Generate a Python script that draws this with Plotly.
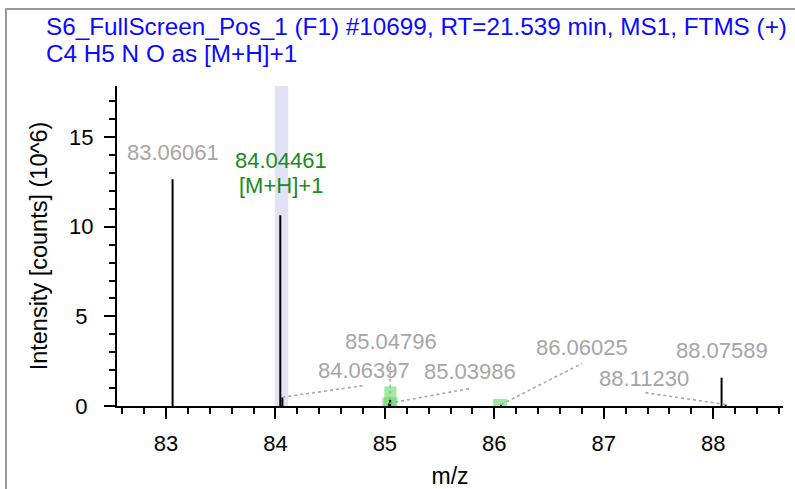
import plotly.graph_objects as go

# ---- data ----
peak_mz = [83.06061, 84.04461, 84.06397, 85.03986, 85.04796, 86.06025, 88.07589, 88.11230]
peak_int = [12.65, 10.64, 0.49, 0.15, 0.35, 0.08, 1.58, 0.08]

label_text = ["83.06061", "84.04461", "84.06397", "85.03986", "85.04796", "86.06025", "88.07589", "88.11230"]
label_x = [83.064, 84.050, 84.812, 85.780, 85.052, 86.800, 88.078, 87.365]
label_y = [14.13, 13.69, 1.98, 1.90, 3.58, 3.24, 3.10, 1.56]
label_color = ["#a6a6a6", "#1b8a1b", "#a6a6a6", "#a6a6a6", "#a6a6a6", "#a6a6a6", "#a6a6a6", "#a6a6a6"]
# leader lines: (peak index, end x, end y)
leader_peak = [2, 3, 4, 5, 7]
leader_end_x = [84.817, 85.795, 85.048, 86.800, 87.374]
leader_end_y = [1.15, 1.00, 2.71, 2.37, 0.75]

ion_label = "[M+H]+1"
target_center = 84.056
target_width = 0.122
iso_center = [85.045, 85.050, 86.053]
iso_width = [0.137, 0.110, 0.128]
iso_height = [0.49, 1.09, 0.40]

y_tickvals = [0, 5, 10, 15]
y_ticklabels = ["0", "5", "10", "15"]

title1 = "S6_FullScreen_Pos_1 (F1) #10699, RT=21.539 min, MS1, FTMS (+)"
title2 = "C4 H5 N O as [M+H]+1"

xrange_ = [82.553, 88.637]
yrange_ = [0, 17.85]

FONT = "Arial, Liberation Sans, sans-serif"
NB = "\u00a0"

fig = go.Figure()

# target band
fig.add_shape(type="rect", xref="x", yref="paper",
              x0=target_center - target_width / 2, x1=target_center + target_width / 2,
              y0=0, y1=1, fillcolor="#e2e2f7", line_width=0, layer="below")
# isotope pattern boxes
for c, w, h in zip(iso_center, iso_width, iso_height):
    fig.add_shape(type="rect", xref="x", yref="y", x0=c - w / 2, x1=c + w / 2, y0=0, y1=h,
                  fillcolor="rgba(100,220,100,0.6)", line_width=0, layer="below")

# sticks
xs, ys = [], []
for m, i in zip(peak_mz, peak_int):
    xs += [m, m, None]
    ys += [0, i, None]
fig.add_trace(go.Scatter(x=xs, y=ys, mode="lines", line=dict(color="black", width=2),
                         hoverinfo="skip", showlegend=False))

# leader lines
lx, ly = [], []
for p, ex, ey in zip(leader_peak, leader_end_x, leader_end_y):
    lx += [peak_mz[p], ex, None]
    ly += [peak_int[p], ey, None]
fig.add_trace(go.Scatter(x=lx, y=ly, mode="lines", line=dict(color="#a6a6a6", width=1.6, dash="dot"),
                         hoverinfo="skip", showlegend=False))

for t, x, y, c in zip(label_text, label_x, label_y, label_color):
    fig.add_annotation(x=x, y=y, xref="x", yref="y", text=t, showarrow=False,
                       font=dict(family=FONT, size=22, color=c), xanchor="center", yanchor="middle")
fig.add_annotation(x=label_x[1], y=12.29, xref="x", yref="y", text=ion_label, showarrow=False,
                   font=dict(family=FONT, size=22, color=label_color[1]), xanchor="center", yanchor="middle")

# titles
L, R, T, B = 117, 12, 86, 83
pw, ph = 795 - L - R, 489 - T - B
def px(xp):
    return (xp - L) / pw
def py(yp):
    return (489 - B - yp) / ph
fig.add_annotation(x=px(44), y=py(26.5), xref="paper", yref="paper", text=title1, showarrow=False,
                   font=dict(family=FONT, size=24.3, color="#0a0aff"), xanchor="left", yanchor="middle")
fig.add_annotation(x=px(44), y=py(53.5), xref="paper", yref="paper", text=title2, showarrow=False,
                   font=dict(family=FONT, size=24.3, color="#0a0aff"), xanchor="left", yanchor="middle")

# frame border
fig.add_shape(type="rect", xref="paper", yref="paper", x0=px(6), y0=py(9), x1=px(900), y1=py(700),
              line=dict(color="#9a9a9a", width=2), fillcolor="rgba(0,0,0,0)", layer="below")

# y labels are centred in the original: pad single digits by half a digit
y_ticktext = [t + (NB if len(t) == 1 else "") + NB for t in y_ticklabels]

fig.update_layout(
    width=795, height=489,
    margin=dict(l=L, r=R, t=T, b=B, pad=0, autoexpand=False),
    paper_bgcolor="white", plot_bgcolor="white",
    showlegend=False,
    font=dict(family=FONT, color="black"),
)
fig.update_xaxes(range=xrange_, showgrid=False, zeroline=False, showline=True, linecolor="black",
                 linewidth=2, ticks="outside", ticklen=11, tickwidth=2, tickcolor="black", automargin=False,
                 dtick=1, tick0=83, tickfont=dict(size=22, family=FONT), ticklabelstandoff=6,
                 minor=dict(dtick=0.2, tick0=83, ticks="outside", ticklen=6, tickwidth=1.5, tickcolor="black"),
                 title=dict(text="m/z", font=dict(size=23, family=FONT), standoff=16))
fig.update_yaxes(range=yrange_, showgrid=False, zeroline=False, showline=True, linecolor="black",
                 linewidth=2, ticks="outside", ticklen=11, tickwidth=2, tickcolor="black", automargin=False,
                 tickmode="array", tickvals=y_tickvals, ticktext=y_ticktext,
                 tickfont=dict(size=22, family=FONT),
                 minor=dict(dtick=1, tick0=0, ticks="outside", ticklen=6, tickwidth=1.5, tickcolor="black"),
                 title=dict(text="Intensity [counts] (10^6)", font=dict(size=23.5, family=FONT), standoff=15))

fig.write_html("out.html")
